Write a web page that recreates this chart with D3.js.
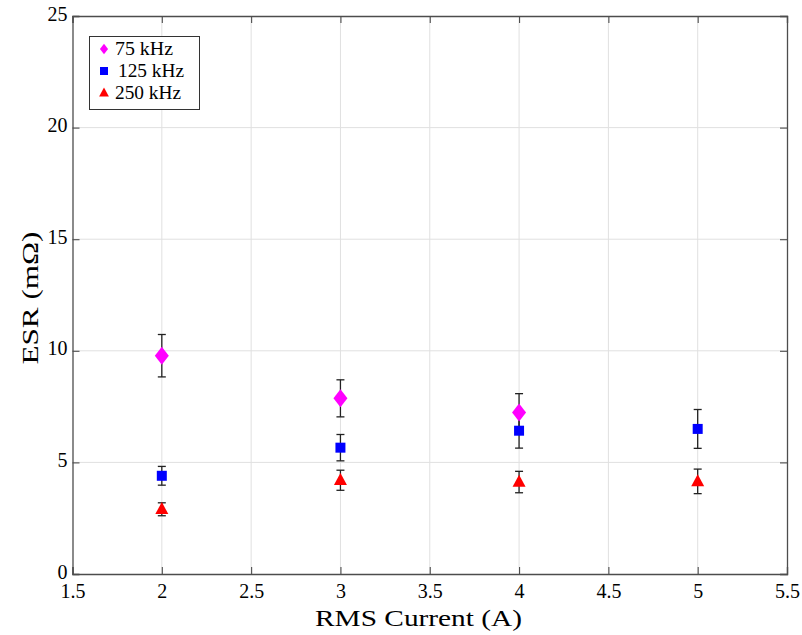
<!DOCTYPE html>
<html>
<head>
<meta charset="utf-8">
<script src="https://cdn.jsdelivr.net/npm/d3@7"></script>
<style>
  body { margin: 0; background: #fff; }
</style>
</head>
<body>
<svg id="chart" width="802" height="635"></svg>
<script>
// Data
const currents = [2, 3, 4, 5];
const esr75 = [9.78, 7.87, 7.24];
const err75 = [0.95, 0.83, 0.84];
const esr125 = [4.40, 5.66, 6.42, 6.50];
const err125 = [0.42, 0.59, 0.78, 0.87];
const esr250 = [2.90, 4.20, 4.12, 4.15];
const err250 = [0.29, 0.45, 0.48, 0.55];
const xTicks = [1.5, 2, 2.5, 3, 3.5, 4, 4.5, 5, 5.5];
const yTicks = [0, 5, 10, 15, 20, 25];

const series = [
  { name: "75 kHz", values: esr75, errs: err75, color: "#ff00ff", shape: "diamond" },
  { name: "125 kHz", values: esr125, errs: err125, color: "#0000ff", shape: "square" },
  { name: "250 kHz", values: esr250, errs: err250, color: "#ff0000", shape: "triangle" }
];

const FONT = 'Liberation Serif';

const margin = { top: 16, right: 15, bottom: 61, left: 72.5 };
const width = 802 - margin.left - margin.right;
const height = 635 - margin.top - margin.bottom;

const svg = d3.select('#chart');
const g = svg.append('g').attr('transform', `translate(${margin.left},${margin.top})`);

const x = d3.scaleLinear().domain([1.5, 5.5]).range([0, width]);
const y = d3.scaleLinear().domain([0, 25]).range([height, 0]);

// grid
g.append('g').selectAll('line').data(xTicks.slice(1, -1)).enter().append('line')
  .attr('x1', d => x(d)).attr('x2', d => x(d)).attr('y1', 0).attr('y2', height)
  .attr('stroke', '#e0e0e0').attr('stroke-width', 1);
g.append('g').selectAll('line').data(yTicks.slice(1, -1)).enter().append('line')
  .attr('y1', d => y(d)).attr('y2', d => y(d)).attr('x1', 0).attr('x2', width)
  .attr('stroke', '#e0e0e0').attr('stroke-width', 1);

// axes, ticks inward on all four sides
const axisStyle = sel => {
  sel.attr('font-family', FONT).attr('font-size', 20);
  sel.select('.domain').attr('stroke', '#4d4d4d').attr('stroke-width', 1.3);
  sel.selectAll('.tick line').attr('stroke', '#4d4d4d').attr('stroke-width', 1.1);
  sel.selectAll('.tick text').attr('fill', '#000')
    .style('font-size', '20px').style('font-family', FONT);
};

g.append('g').attr('transform', `translate(0,${height})`)
  .call(d3.axisBottom(x).tickValues(xTicks).tickSize(-7).tickPadding(10).tickFormat(d3.format('')))
  .call(axisStyle);
g.append('g')
  .call(d3.axisTop(x).tickValues(xTicks).tickSize(-7).tickFormat(''))
  .call(axisStyle);
g.append('g')
  .call(d3.axisLeft(y).tickValues(yTicks).tickSize(-7).tickPadding(5).tickFormat(d3.format('')))
  .call(axisStyle)
  .call(a => a.selectAll('.tick text').attr('dy', '0.2em'));
g.append('g').attr('transform', `translate(${width},0)`)
  .call(d3.axisRight(y).tickValues(yTicks).tickSize(-7).tickFormat(''))
  .call(axisStyle);

// error bars
const capW = 4;
series.forEach(s => {
  const pts = s.values.map((v, i) => ({ x: currents[i], v, e: s.errs[i] }));
  const eb = g.append('g').attr('stroke', '#222').attr('stroke-width', 1.3);
  pts.forEach(p => {
    eb.append('line').attr('x1', x(p.x)).attr('x2', x(p.x))
      .attr('y1', y(p.v - p.e)).attr('y2', y(p.v + p.e));
    eb.append('line').attr('x1', x(p.x) - capW).attr('x2', x(p.x) + capW)
      .attr('y1', y(p.v + p.e)).attr('y2', y(p.v + p.e));
    eb.append('line').attr('x1', x(p.x) - capW).attr('x2', x(p.x) + capW)
      .attr('y1', y(p.v - p.e)).attr('y2', y(p.v - p.e));
  });
});

// marker paths
function markerPath(shape, s) {
  if (shape === 'diamond') {
    const w = 7 * s, h = 9 * s;
    return `M0,${-h}L${w},0L0,${h}L${-w},0Z`;
  }
  if (shape === 'square') {
    const a = 5 * s;
    return `M${-a},${-a}H${a}V${a}H${-a}Z`;
  }
  const w = 6.5 * s, h = 12 * s;
  return `M0,${-h * 0.6}L${w},${h * 0.4}L${-w},${h * 0.4}Z`;
}

series.forEach(s => {
  g.append('g').selectAll('path').data(s.values).enter().append('path')
    .attr('transform', (d, i) => `translate(${x(currents[i])},${y(d)})`)
    .attr('d', markerPath(s.shape, 1))
    .attr('fill', s.color);
});

// legend
const legend = svg.append('g').attr('transform', 'translate(89,36)');
legend.append('rect').attr('x', 0.5).attr('y', 0.5).attr('width', 110).attr('height', 73)
  .attr('fill', '#fff').attr('stroke', '#333').attr('stroke-width', 1);
const legScale = [0.58, 0.8, 0.75];
const legLen = [58, 66, 66];
series.forEach((s, i) => {
  const row = legend.append('g').attr('transform', `translate(15,${13 + i * 22})`);
  row.append('path').attr('d', markerPath(s.shape, legScale[i])).attr('fill', s.color);
  row.append('text').attr('x', i === 1 ? 14 : 11).attr('y', 6)
    .style('font-family', FONT).style('font-size', '18px').attr('fill', '#000')
    .attr('textLength', legLen[i]).attr('lengthAdjust', 'spacingAndGlyphs')
    .text(s.name);
});

// axis titles
svg.append('text').attr('x', 418.5).attr('y', 626)
  .attr('text-anchor', 'middle').style('font-family', FONT).style('font-size', '24px')
  .attr('textLength', 207).attr('lengthAdjust', 'spacingAndGlyphs')
  .text('RMS Current (A)');
svg.append('text')
  .attr('transform', `translate(38,298) rotate(-90)`)
  .attr('text-anchor', 'middle').style('font-family', FONT).style('font-size', '24px')
  .attr('textLength', 133).attr('lengthAdjust', 'spacingAndGlyphs')
  .text('ESR (mΩ)');
</script>
</body>
</html>
